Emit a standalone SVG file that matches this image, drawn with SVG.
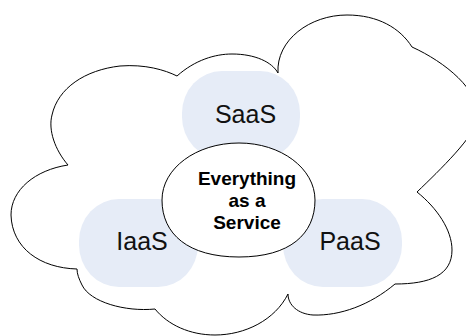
<svg xmlns="http://www.w3.org/2000/svg" width="466" height="336" viewBox="0 0 466 336">
  <style>
    .cloud { fill: #ffffff; stroke: #000000; stroke-width: 1; stroke-linejoin: miter; }
    .svc { fill: #e6ecf7; stroke: none; }
    .core { fill: #ffffff; stroke: #000000; stroke-width: 1; }
    .lbl { font-family: "Liberation Sans", Arial, sans-serif; font-size: 25px; fill: #111111; text-anchor: middle; }
    .core-lbl { font-family: "Liberation Sans", Arial, sans-serif; font-size: 19px; font-weight: bold; fill: #000000; text-anchor: middle; }
  </style>
  <rect width="466" height="336" fill="#ffffff"/>

  <!-- cloud outline -->
  <g id="cloud">
    <path class="cloud" d="M68,165
      C55,150 48,130 52,115
      C58,88 85,70 120,66
      C145,64 165,70 177,76
      C195,60 215,54 232,54
      C255,54 272,62 278,73
      C276,40 310,15 347,15
      C378,15 400,28 412,47
      C445,62 480,90 478,118
      C476,135 440,170 417,192
      C437,208 452,230 452,250
      C452,275 430,284 395,284
      C370,305 340,316 313,315
      C298,314 288,305 288,294
      C275,320 245,335 215,335
      C190,335 168,325 155,309
      C125,312 90,302 82,285
      C79,279 77,274 77,269
      C40,268 12,248 11,215
      C11,190 35,170 68,165 Z"/>
  </g>

  <!-- service bubbles -->
  <g id="saas">
    <rect class="svc" x="182" y="71" width="118" height="88" rx="40" ry="42"/>
    <text class="lbl" x="245.5" y="123">SaaS</text>
  </g>
  <g id="iaas">
    <rect class="svc" x="79" y="199" width="119" height="88" rx="40" ry="42"/>
    <text class="lbl" x="142" y="250">IaaS</text>
  </g>
  <g id="paas">
    <rect class="svc" x="283" y="199" width="119" height="88" rx="40" ry="42"/>
    <text class="lbl" x="350" y="250">PaaS</text>
  </g>

  <!-- central oval -->
  <g id="xaas">
    <path class="core" d="M162,200 C162,168.5 196,143 239,143 C281,143 315,168.5 315,200 C315,234 290,257 239,257 C188,257 162,234 162,200 Z"/>
    <text class="core-lbl" x="247" y="185">Everything</text>
    <text class="core-lbl" x="247" y="207">as a</text>
    <text class="core-lbl" x="247" y="229">Service</text>
  </g>
</svg>
